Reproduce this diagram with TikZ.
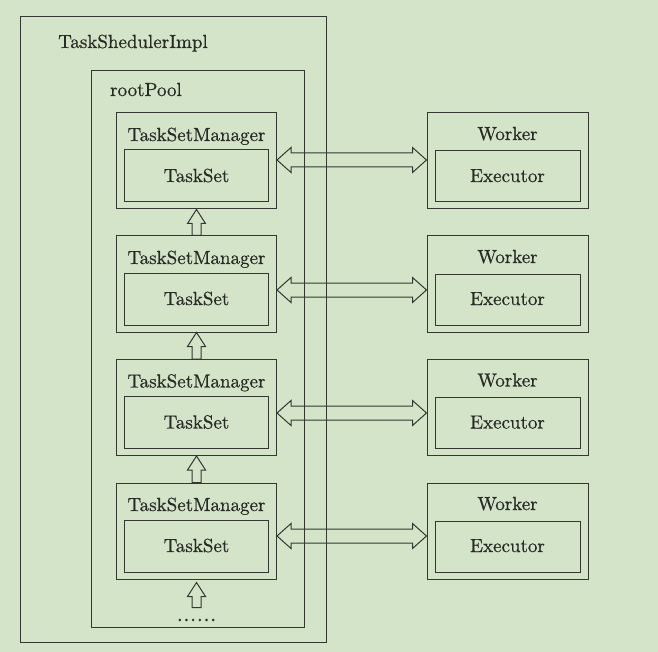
\documentclass[tikz,border=0pt]{standalone}
\usepackage{fontspec}
\newfontfamily\lmx{lmroman10-regular.otf}[FakeBold=0.6]
\newfontfamily\lmdots{lmroman10-regular.otf}[FakeBold=2.5]
\usetikzlibrary{calc}
\definecolor{bg}{RGB}{212,228,201}
\definecolor{ln}{RGB}{52,54,50}
\definecolor{tx}{RGB}{40,42,38}
\newcommand\harrow[2]{\draw[conn] (#1) -- ++(14,-12.5) -- ++(0,5.5) -- ($(#2)+(-14,-7)$) -- ++(0,-5.5) -- (#2) -- ++(-14,12.5) -- ++(0,-5.5) -- ($(#1)+(14,7)$) -- ++(0,5.5) -- cycle;}
\newcommand\varrow[2]{\draw[conn] (#1) -- ++(9,14) -- ++(-4.5,0) -- ($(#2)+(4.5,0)$) -- ++(-9,0) -- ($(#1)+(-4.5,14)$) -- ++(-4.5,0) -- cycle;}
\begin{document}
\begin{tikzpicture}[x=1pt,y=-1pt,
  box/.style={draw=ln,line width=1pt,inner sep=0pt,rectangle},
  conn/.style={draw=ln,line width=1pt,line join=miter},
  lbl/.style={text=tx,font=\lmx\fontsize{19}{21}\selectfont,inner sep=0pt}]
\fill[bg] (0,0) rectangle (658,652);
\useasboundingbox (0,0) rectangle (658,652);
% containers
\node[box,minimum width=306pt,minimum height=625pt] (outer) at (173,329.5) {};
\node[box,minimum width=213pt,minimum height=556pt] (pool) at (197.5,349) {};
\node[lbl,anchor=base west] (outerlbl) at (58,48) {TaskShedulerImpl};
\node[lbl,anchor=base west] (poollbl) at (110,96) {rootPool};
% task set managers and workers
\foreach \i/\cy in {1/161,2/284,3/407.5,4/531}{
  \node[box,minimum width=160pt,minimum height=96pt] (tsm\i) at (196.5,\cy) {};
  \node[box,minimum width=144pt,minimum height=52pt] (ts\i) at (196.5,\cy+15) {};
  \node[lbl,anchor=base] (tsml\i) at (196.5,\cy-20) {TaskSetManager};
  \node[lbl,anchor=base] (tsl\i) at (196.5,\cy+21) {TaskSet};
  \node[box,minimum width=161pt,minimum height=96pt] (w\i) at (507.5,\cy) {};
  \node[box,minimum width=145pt,minimum height=51pt] (ex\i) at (507.5,\cy+15.5) {};
  \node[lbl,anchor=base] (wl\i) at (507.5,\cy-21) {Worker};
  \node[lbl,anchor=base] (exl\i) at (507.5,\cy+21) {Executor};
}
\node[lbl,anchor=base,font=\lmdots\fontsize{19}{21}\selectfont] (dots) at (196.5,621) {.\kern1.4pt.\kern1.4pt.\kern1.4pt.\kern1.4pt.\kern1.4pt.};
% horizontal double arrows
\foreach \i/\dy in {1/-1,2/6,3/5.5,4/5}{
  \coordinate (hl\i) at ($(tsm\i.east)+(0,\dy)$);
  \coordinate (hr\i) at ($(w\i.west)+(0,\dy)$);
  \harrow{hl\i}{hr\i}
}
% vertical up arrows
\varrow{tsm1.south}{tsm2.north}
\varrow{tsm2.south}{tsm3.north}
\varrow{tsm3.south}{tsm4.north}
\coordinate (vt) at ($(tsm4.south)+(0,3)$);
\coordinate (vb) at ($(tsm4.south)+(0,28)$);
\varrow{vt}{vb}
\end{tikzpicture}
\end{document}
